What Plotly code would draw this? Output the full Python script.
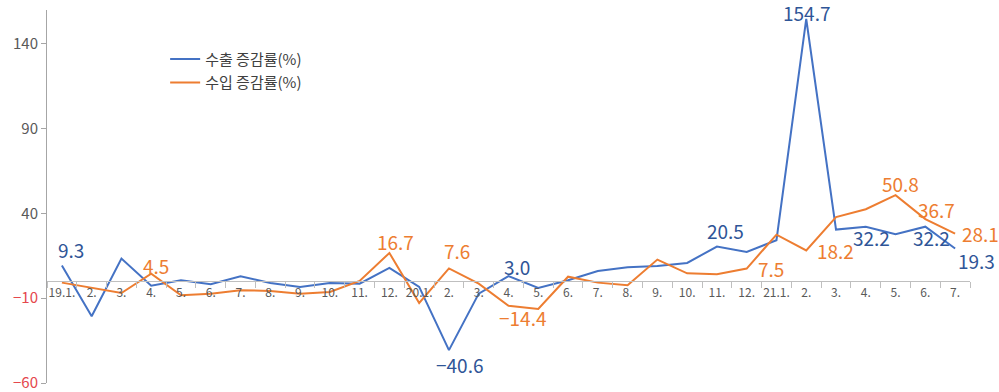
import plotly.graph_objects as go

cats = ["19.1", "19.2", "19.3", "19.4", "19.5", "19.6", "19.7", "19.8", "19.9", "19.10", "19.11", "19.12",
        "20.1", "20.2", "20.3", "20.4", "20.5", "20.6", "20.7", "20.8", "20.9", "20.10", "20.11", "20.12",
        "21.1", "21.2", "21.3", "21.4", "21.5", "21.6", "21.7"]
tick_labels = ["19.1.", "2.", "3.", "4.", "5.", "6.", "7.", "8.", "9.", "10.", "11.", "12.",
               "20.1.", "2.", "3.", "4.", "5.", "6.", "7.", "8.", "9.", "10.", "11.", "12.",
               "21.1.", "2.", "3.", "4.", "5.", "6.", "7."]

export_rate = [9.3, -20.6, 13.4, -2.6, 0.6, -1.8, 2.9, -1.0, -3.3, -1.0, -1.4, 7.9,
               -3.3, -40.6, -7.3, 3.0, -3.9, 0.6, 6.1, 8.3, 9.0, 10.8, 20.5, 17.3,
               24.2, 154.7, 30.5, 32.2, 27.7, 32.2, 19.3]
import_rate = [-0.8, -3.9, -6.9, 4.5, -8.3, -7.3, -5.3, -5.7, -7.3, -6.3, 0.2, 16.7,
               -12.8, 7.6, -1.4, -14.4, -16.3, 2.7, -0.8, -2.4, 12.8, 4.7, 4.1, 7.5,
               27.5, 18.2, 37.9, 42.5, 50.8, 36.7, 28.1]

series_names = ["수출 증감률(%)", "수입 증감률(%)"]

# labelled points: (category, text, xshift, yshift)
export_labels = [("19.1", "9.3", 9, 16), ("20.2", "−40.6", 11, -14), ("20.4", "3.0", 8, 10),
                 ("20.11", "20.5", 9, 16), ("21.2", "154.7", 0, 6), ("21.4", "32.2", 6, -11),
                 ("21.6", "32.2", 6, -11), ("21.7", "19.3", 21, -12)]
import_labels = [("19.4", "4.5", 5, 8), ("19.12", "16.7", 6, 11), ("20.2", "7.6", 8, 18),
                 ("20.4", "−14.4", 14, -12), ("20.12", "7.5", 24, 0), ("21.2", "18.2", 29, 0),
                 ("21.5", "50.8", 5, 12), ("21.6", "36.7", 11, 10), ("21.7", "28.1", 25, 0)]

y_ticks = [-60, -10, 40, 90, 140]
y_tick_text = ['<span style="color:#E5484D">−60</span>', '<span style="color:#E5484D">−10</span>',
               "40", "90", "140"]

BLUE = "#4472C4"
BLUE_TXT = "#2F5597"
ORANGE = "#ED7D31"
FONT = "Noto Sans CJK KR"

fig = go.Figure()
fig.add_trace(go.Scatter(x=cats, y=export_rate, mode="lines", name=series_names[0],
                         legendgroup="a", line=dict(color=BLUE, width=2)))
fig.add_trace(go.Scatter(x=cats, y=import_rate, mode="lines", name=series_names[1],
                         legendgroup="b", line=dict(color=ORANGE, width=2)))

for c, t, dx, dy in export_labels:
    i = cats.index(c)
    fig.add_annotation(x=i, y=export_rate[i], text=t, showarrow=False, xshift=dx, yshift=dy,
                       font=dict(family=FONT, size=19, color=BLUE_TXT))
for c, t, dx, dy in import_labels:
    i = cats.index(c)
    fig.add_annotation(x=i, y=import_rate[i], text=t, showarrow=False, xshift=dx, yshift=dy,
                       font=dict(family=FONT, size=19, color=ORANGE))

ymin, ymax = -60, 160
fig.update_layout(
    width=999, height=392,
    margin=dict(l=47, r=29, t=10, b=9, autoexpand=False),
    paper_bgcolor="white", plot_bgcolor="white",
    font=dict(family=FONT, color="#595959"),
    showlegend=True,
    legend=dict(x=0.128, y=0.912, xanchor="left", yanchor="top",
                bgcolor="rgba(0,0,0,0)", font=dict(size=15, color="#404040"),
                tracegroupgap=1),
    xaxis=dict(type="category", range=[-0.5, len(cats) - 0.5],
               tickvals=cats, ticktext=tick_labels, automargin=False,
               anchor="free", position=(0 - ymin) / (ymax - ymin),
               showline=True, linecolor="#BFBFBF", linewidth=1,
               ticks="outside", ticklen=6, tickcolor="#BFBFBF", tickson="boundaries",
               showgrid=False, tickangle=0,
               tickfont=dict(size=12, color="#595959")),
    yaxis=dict(range=[ymin, ymax], tickvals=y_ticks, ticktext=y_tick_text,
               automargin=False,
               showline=True, linecolor="#A6A6A6", linewidth=1,
               ticks="outside", ticklen=5, tickcolor="#A6A6A6",
               showgrid=False, zeroline=False,
               ticklabeloverflow="allow", ticksuffix="  ",
               tickfont=dict(size=15, color="#595959")),
)

fig.write_html("out.html", config={"displayModeBar": False},
               post_script="document.body.style.margin='0';")
